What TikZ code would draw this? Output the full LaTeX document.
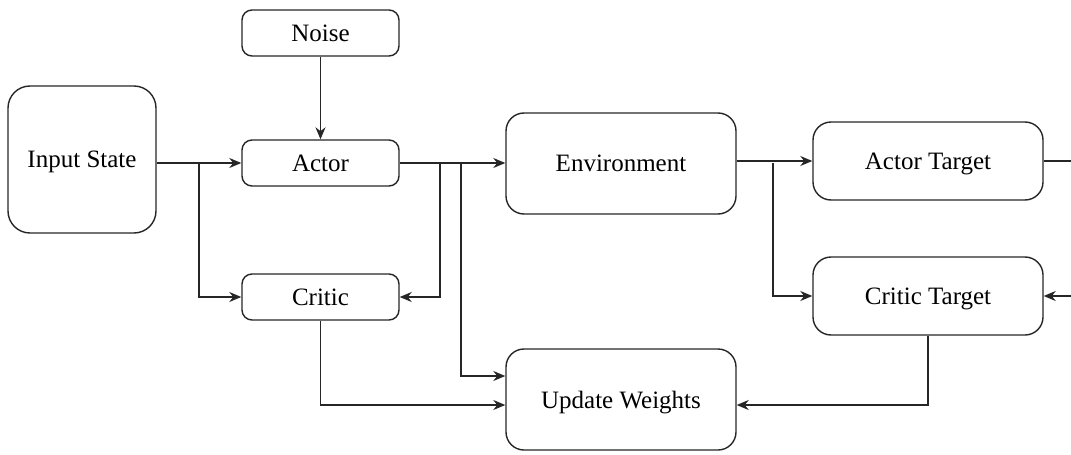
\documentclass[tikz,border=0pt]{standalone}
\usepackage{fontspec}
\setmainfont{Liberation Serif}
\usetikzlibrary{arrows.meta}
\begin{document}
\begin{tikzpicture}[x=1pt,y=-1pt,
  box/.style={draw=black!85,line width=1.4pt,rectangle,inner sep=0pt,text depth=0pt,font=\fontsize{25}{30}\selectfont},
  conn/.style={draw=black!85,line width=1.4pt,-{Stealth[length=12pt,width=10pt]}},
  plain/.style={draw=black!85,line width=1.4pt}]
\useasboundingbox (0,0) rectangle (1071,455);
\node[box,rounded corners=22pt,minimum width=148pt,minimum height=147pt] (input) at (82,159.5) {Input State};
\node[box,rounded corners=10pt,minimum width=157pt,minimum height=46pt] (noise) at (320.5,33) {Noise};
\node[box,rounded corners=10pt,minimum width=157pt,minimum height=46pt] (actor) at (320.5,163) {Actor};
\node[box,rounded corners=10pt,minimum width=157pt,minimum height=46pt] (critic) at (320.5,297) {Critic};
\node[box,rounded corners=18pt,minimum width=230pt,minimum height=101pt] (env) at (621,163.5) {Environment};
\node[box,rounded corners=18pt,minimum width=230pt,minimum height=78pt] (at) at (928,161) {Actor Target};
\node[box,rounded corners=18pt,minimum width=230pt,minimum height=78pt] (ct) at (928,296) {Critic Target};
\node[box,rounded corners=18pt,minimum width=230pt,minimum height=101pt] (uw) at (621,399.5) {Update Weights};
\coordinate (atout) at (1071,161);
\coordinate (ctin) at (1071,296);
\draw[conn] (noise) -- (actor);
\draw[conn] (input.east |- actor) -- (actor.west);
\draw[conn] (199,163) |- (critic.west);
\draw[conn] (actor.east) -- (env.west |- actor);
\draw[conn] (440,163) |- (critic.east);
\draw[conn] (461,163) |- (uw.west |- 0,376);
\draw[conn] (critic.south) |- (uw.west |- 0,405);
\draw[conn] (env.east |- at) -- (at.west);
\draw[conn] (773,163) |- (ct.west);
\draw[plain] (at.east) -- (atout);
\draw[conn] (ctin) -- (ct.east);
\draw[conn] (ct.south) |- (uw.east |- 0,405);
\end{tikzpicture}
\end{document}
